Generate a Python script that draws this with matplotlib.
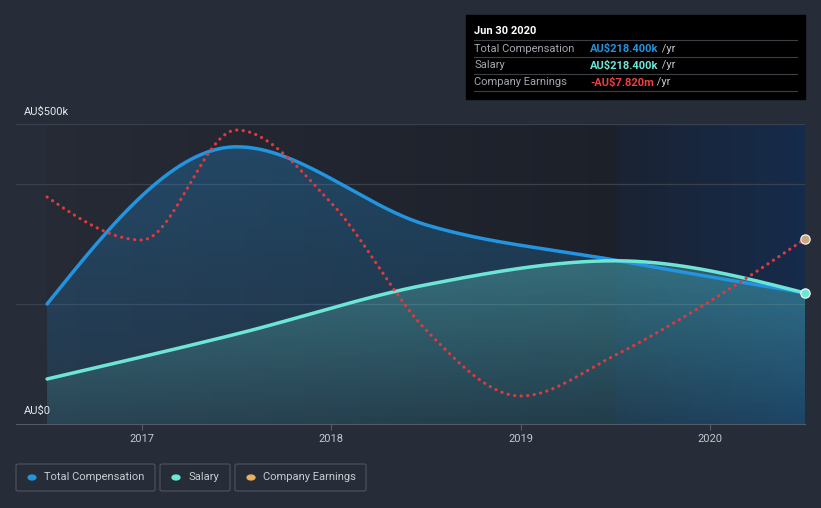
import numpy as np
import matplotlib
matplotlib.use("Agg")
import matplotlib.pyplot as plt
from matplotlib.patches import Rectangle, FancyBboxPatch, Circle
from matplotlib.text import Annotation

plt.rcParams['font.family'] = ['Roboto', 'DejaVu Sans']

# data (year fraction, AU$k / AU$m)
years = [2016.5, 2017.5, 2018.5, 2019.5, 2020.5]
total_comp = [200, 462, 332, 273, 218.4]
salary = [75, 150, 232, 272, 218.4]

earn_years = [2016.5, 2017.0, 2017.5, 2018.0, 2018.5, 2019.0, 2019.5, 2020.0, 2020.5]
earnings = [-5.72, -7.87, -2.37, -6.02, -12.37, -15.67, -13.62, -10.92, -7.82]

tick_years = [2017, 2018, 2019, 2020]
tick_labels = ['2017', '2018', '2019', '2020']
forecast_start = 2019.5

BG = '#262c38'
BLUE = '#2394df'
TEAL = '#6ee6d6'
RED = '#e0393e'
GOLD = '#e8b05e'
FS = 8


def monotone(x, y, n=300):
    # d3 style monotoneX curve
    x = np.asarray(x, float)
    y = np.asarray(y, float)
    h = np.diff(x)
    s = np.diff(y) / h
    m = np.zeros(len(x))
    for i in range(1, len(x) - 1):
        p = (s[i - 1] * h[i] + s[i] * h[i - 1]) / (h[i - 1] + h[i])
        m[i] = (np.sign(s[i - 1]) + np.sign(s[i])) * min(abs(s[i - 1]), abs(s[i]), 0.5 * abs(p))
    m[0] = (3 * s[0] - m[1]) / 2
    m[-1] = (3 * s[-1] - m[-2]) / 2
    xs, ys = [], []
    for i in range(len(x) - 1):
        t = np.linspace(0, 1, n, endpoint=(i == len(x) - 2))
        h00 = 2 * t**3 - 3 * t**2 + 1
        h10 = t**3 - 2 * t**2 + t
        h01 = -2 * t**3 + 3 * t**2
        h11 = t**3 - t**2
        xs.append(x[i] + t * h[i])
        ys.append(h00 * y[i] + h10 * h[i] * m[i] + h01 * y[i + 1] + h11 * h[i] * m[i + 1])
    return np.concatenate(xs), np.concatenate(ys)


W, H = 821, 508
fig = plt.figure(figsize=(W / 100, H / 100), dpi=100)
fig.patch.set_facecolor(BG)


def fx(px):
    return px / W


def fy(py):
    return 1 - py / H


ax = fig.add_axes([fx(16), fy(424), fx(805) - fx(16), fy(124) - fy(424)])
ax.set_facecolor(BG)
x0, x1 = 2016.336, 2020.5
ax.set_xlim(x0, x1)
ax.set_ylim(0, 500)


def hgrad(a, b, c_a, c_b, n=120):
    c_a = np.array(matplotlib.colors.to_rgb(c_a))
    c_b = np.array(matplotlib.colors.to_rgb(c_b))
    edges = np.linspace(a, b, n + 1)
    for k in range(n):
        f = k / (n - 1)
        ax.axvspan(edges[k], min(edges[k + 1] + (b - a) / n, b), color=c_a + f * (c_b - c_a),
                   lw=0, zorder=0, antialiased=False)


# background shading
hgrad(2016.5, forecast_start, '#252a35', '#1c2029')
hgrad(forecast_start, 2020.5, '#1a2232', '#152b4b')

for gy in [200, 400, 500]:
    ax.axhline(gy, color='#3a404c', lw=0.9, zorder=1)

tx, ty = monotone(years, total_comp)
sx, sy = monotone(years, salary)


def gradient_fill(xs, ys, color, a_top, a_bot, z):
    poly = ax.fill_between(xs, 0, ys, color='none', lw=0, zorder=z)
    rgb = np.array(matplotlib.colors.to_rgb(color))
    v = np.linspace(1, 0, 256).reshape(-1, 1)
    rgba = np.zeros((256, 1, 4))
    rgba[..., :3] = rgb
    rgba[..., 3] = a_bot + (a_top - a_bot) * v
    im = ax.imshow(rgba, extent=[xs.min(), xs.max(), 0, ys.max()], aspect='auto',
                   origin='upper', zorder=z, interpolation='bilinear')
    im.set_clip_path(poly.get_paths()[0], transform=ax.transData)


gradient_fill(tx, ty, BLUE, 0.30, 0.12, 2)
gradient_fill(sx, sy, TEAL, 0.30, 0.08, 3)
ax.set_xlim(x0, x1)
ax.set_ylim(0, 500)

ax.plot(tx, ty, color=BLUE, lw=2.5, zorder=5, solid_capstyle='round')
ax.plot(sx, sy, color=TEAL, lw=2.5, zorder=6, solid_capstyle='round')

# earnings on its own hidden scale
ax2 = ax.twinx()
ax2.set_ylim(-17.07, -2.07)
ax2.axis('off')
ex, ey = monotone(earn_years, earnings)
ax2.plot(ex, ey, color=RED, lw=2.3, ls=(0, (0.05, 2.0)), dash_capstyle='round', zorder=7)
ax2.scatter([earn_years[-1]], [earnings[-1]], s=45, color='#c9a77c', edgecolor='white',
            lw=0.8, zorder=9, clip_on=False)
ax.scatter([years[-1]], [salary[-1]], s=45, color=TEAL, edgecolor='white',
           lw=0.8, zorder=9, clip_on=False)

for sp in ['top', 'left', 'right']:
    ax.spines[sp].set_visible(False)
ax.spines['bottom'].set_color('#555b66')
ax.set_yticks([])
ax.set_xticks(tick_years)
ax.set_xticklabels(tick_labels, color='#c4c8ce', fontsize=FS)
ax.tick_params(axis='x', length=4, color='#555b66', pad=3)

fig.text(fx(24), fy(112), 'AU$500k', color='#e6e8eb', fontsize=FS, va='center')
fig.text(fx(24), fy(411), 'AU$0', color='#e6e8eb', fontsize=FS, va='center')

# tooltip
fig.add_artist(Rectangle((fx(466), fy(99)), fx(805) - fx(466), fy(15) - fy(99),
                         transform=fig.transFigure, color='black', zorder=10))
fig.text(fx(474), fy(31), 'Jun 30 2020', color='white', fontsize=FS,
         fontweight='bold', va='center', zorder=11)
rows = [('Total Compensation', 'AU$218.400k', BLUE),
        ('Salary', 'AU$218.400k', TEAL),
        ('Company Earnings', '-AU$7.820m', '#f0403f')]
for sep in [40, 57, 74, 91]:
    fig.add_artist(plt.Line2D([fx(474), fx(797)], [fy(sep), fy(sep)], transform=fig.transFigure,
                              color='#3c3f45', lw=0.8, zorder=11))
for i, (lab, val, col) in enumerate(rows):
    yc = fy(48.5 + 17 * i)
    fig.text(fx(474), yc, lab, color='#a3a7ae', fontsize=FS, va='center', zorder=11)
    t = fig.text(fx(590), yc, val, color=col, fontsize=FS, fontweight='bold',
                 va='center', zorder=11)
    fig.add_artist(Annotation(' /yr', xy=(1, 0.5), xycoords=t, va='center', ha='left',
                              color='#c4c8ce', fontsize=FS, zorder=12))

# legend
items = [('Total Compensation', BLUE, 16, 155), ('Salary', TEAL, 160, 230),
         ('Company Earnings', GOLD, 235, 366)]
for lab, col, l, r in items:
    fig.add_artist(FancyBboxPatch((fx(l), fy(491)), fx(r) - fx(l), fy(464) - fy(491),
                                  boxstyle='round,pad=0,rounding_size=0.003',
                                  transform=fig.transFigure, fc=BG, ec='#4a505c', lw=0.9))
    fig.add_artist(Circle((fx(l + 16), fy(477.5)), 0.0048, transform=fig.transFigure,
                          color=col))
    fig.text(fx(l + 28), fy(477.5), lab, color='#c8ccd2', fontsize=FS, va='center')

fig.savefig('out.png', dpi=100, facecolor=BG)
